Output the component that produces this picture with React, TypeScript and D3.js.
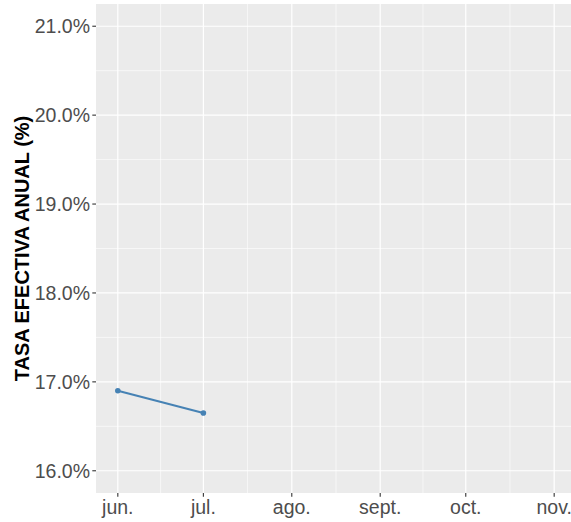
import React from 'react';
import * as d3 from 'd3';

const months = ['2023-06-01', '2023-07-01', '2023-08-01', '2023-09-01', '2023-10-01', '2023-11-01'];
const monthLabels = ['jun.', 'jul.', 'ago.', 'sept.', 'oct.', 'nov.'];
const seriesDates = ['2023-06-01', '2023-07-01'];
const seriesValues = [16.9, 16.65];
const yTicks = [16, 17, 18, 19, 20, 21];
const yMinor = [16.5, 17.5, 18.5, 19.5, 20.5];

const W = 571, H = 522;

export default function App() {
  const parse = d3.timeParse('%Y-%m-%d');
  const mDates = months.map((m) => parse(m) as Date);
  const left = 96, top = 4, bottom = 493;
  const t0 = mDates[0].getTime(), t1 = mDates[mDates.length - 1].getTime();
  const pad = (t1 - t0) * 0.05;
  // 2.852 px/day, panel runs past right edge of the picture
  const right = left + ((t1 - t0 + 2 * pad) / 86400000) * 2.852;
  const x = d3.scaleTime().domain([new Date(t0 - pad), new Date(t1 + pad)]).range([left, right]);
  const y = d3.scaleLinear().domain([15.75, 21.25]).range([bottom, top]);
  const xMinor = mDates.slice(1).map((d, i) => new Date((d.getTime() + mDates[i].getTime()) / 2));
  const pts = seriesDates.map((d, i) => ({ x: x(parse(d) as Date), y: y(seriesValues[i]) }));
  const line = d3.line<{ x: number; y: number }>().x((d) => d.x).y((d) => d.y);
  const fmt = (v: number) => v.toFixed(1) + '%';
  const font = 'Liberation Sans, Arial, Helvetica, sans-serif';

  return (
    <div style={{ position: 'fixed', left: 0, top: 0 }}>
      <svg width={W} height={H} style={{ display: 'block', fontFamily: font }}>
        <rect x={0} y={0} width={W} height={H} fill="#ffffff" />
        <rect x={left} y={top} width={right - left} height={bottom - top} fill="#ebebeb" />
        {yMinor.map((v) => (
          <line key={'ym' + v} x1={left} x2={right} y1={y(v)} y2={y(v)} stroke="#fff" strokeWidth={0.6} />
        ))}
        {xMinor.map((d, i) => (
          <line key={'xm' + i} x1={x(d)} x2={x(d)} y1={top} y2={bottom} stroke="#fff" strokeWidth={0.6} />
        ))}
        {yTicks.map((v) => (
          <line key={'y' + v} x1={left} x2={right} y1={y(v)} y2={y(v)} stroke="#fff" strokeWidth={1.2} />
        ))}
        {mDates.map((d, i) => (
          <line key={'x' + i} x1={x(d)} x2={x(d)} y1={top} y2={bottom} stroke="#fff" strokeWidth={1.2} />
        ))}
        <path d={line(pts) || ''} fill="none" stroke="#4682b4" strokeWidth={2} />
        {pts.map((p, i) => (
          <circle key={'p' + i} cx={p.x} cy={p.y} r={2.8} fill="#4682b4" />
        ))}
        {yTicks.map((v) => (
          <g key={'yt' + v}>
            <line x1={left - 3.7} x2={left} y1={y(v)} y2={y(v)} stroke="#333" strokeWidth={1.1} />
            <text x={left - 6} y={y(v)} dy="0.36em" textAnchor="end" fontSize={19.5} fill="#4d4d4d">
              {fmt(v)}
            </text>
          </g>
        ))}
        {mDates.map((d, i) => (
          <g key={'xt' + i}>
            <line x1={x(d)} x2={x(d)} y1={bottom} y2={bottom + 3.7} stroke="#333" strokeWidth={1.1} />
            <text x={x(d)} y={bottom + 20.5} textAnchor="middle" fontSize={19.5} fill="#4d4d4d">
              {monthLabels[i]}
            </text>
          </g>
        ))}
        <text
          transform={`translate(29,${(top + bottom) / 2}) rotate(-90)`}
          textAnchor="middle"
          fontSize={20}
          fontWeight="bold"
          fill="#000"
        >
          TASA EFECTIVA ANUAL (%)
        </text>
      </svg>
    </div>
  );
}
